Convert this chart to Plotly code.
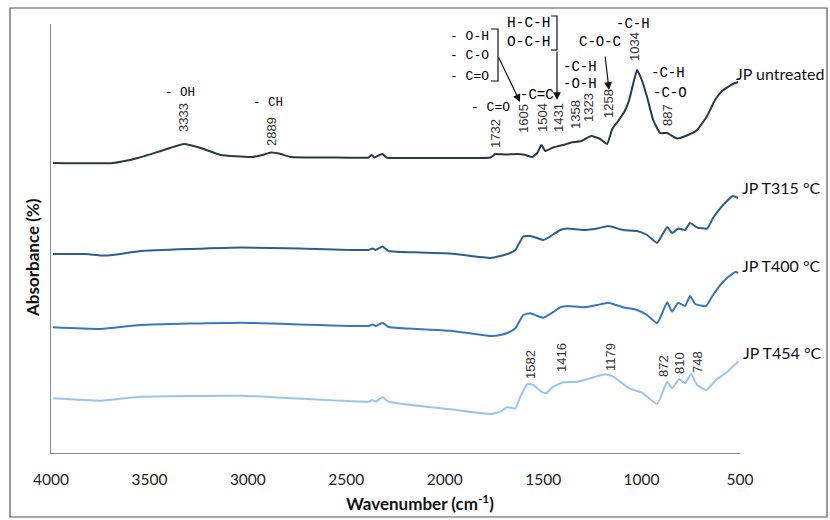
import plotly.graph_objects as go

# ---------------- data ----------------
wn_untreated = [3990, 3685, 3559, 3442, 3325, 3239, 3138, 2985, 2925, 2884, 2833, 2783,
                2580, 2387, 2372, 2356, 2331, 2316, 2296, 2072, 1870, 1768, 1743, 1692,
                1631, 1590, 1555, 1530, 1509, 1489, 1449, 1398, 1357, 1306, 1256, 1210,
                1175, 1149, 1119, 1088, 1063, 1038, 1023, 1003, 972, 941, 906, 870, 820,
                764, 718, 667, 627, 591, 561, 536, 510]
ab_untreated = [2.90, 2.90, 2.95, 3.02, 3.09, 3.05, 2.98, 2.96, 2.98, 3.005, 2.99, 2.96,
                2.955, 2.955, 2.98, 2.955, 2.98, 2.99, 2.955, 2.95, 2.95, 2.955, 2.99, 2.985,
                2.99, 2.98, 2.96, 3.00, 3.08, 3.02, 3.055, 3.08, 3.105, 3.12, 3.17, 3.14,
                3.09, 3.24, 3.32, 3.41, 3.53, 3.73, 3.83, 3.75, 3.56, 3.33, 3.20, 3.20, 3.145,
                3.18, 3.23, 3.37, 3.53, 3.62, 3.66, 3.69, 3.71]

wn_t315 = [3990, 3822, 3746, 3685, 3543, 3290, 3036, 2732, 2387, 2367, 2351, 2316, 2285,
           2123, 1971, 1768, 1717, 1667, 1641, 1601, 1565, 1530, 1499, 1464, 1413, 1378,
           1296, 1225, 1170, 1093, 1023, 972, 921, 870, 845, 814, 779, 754, 718, 667, 637,
           586, 536, 510]
ab_t315 = [1.99, 1.99, 1.975, 1.98, 2.02, 2.04, 2.055, 2.045, 2.03, 2.045, 2.03, 2.065, 2.02,
           2.005, 1.995, 1.95, 1.97, 2.00, 2.03, 2.165, 2.17, 2.15, 2.13, 2.165, 2.23, 2.245,
           2.23, 2.245, 2.27, 2.23, 2.22, 2.18, 2.10, 2.26, 2.20, 2.245, 2.23, 2.30, 2.255,
           2.245, 2.35, 2.48, 2.57, 2.55]

wn_t400 = [3990, 3746, 3543, 3036, 2387, 2367, 2351, 2316, 2285, 1971, 1768, 1717, 1667,
           1641, 1601, 1565, 1530, 1499, 1464, 1413, 1378, 1296, 1225, 1170, 1093, 1023,
           972, 921, 870, 845, 814, 779, 754, 728, 672, 637, 586, 536, 520, 510]
ab_t400 = [1.257, 1.24, 1.28, 1.303, 1.27, 1.285, 1.27, 1.303, 1.26, 1.223, 1.17, 1.18, 1.213,
           1.247, 1.38, 1.397, 1.37, 1.353, 1.39, 1.457, 1.47, 1.457, 1.48, 1.503, 1.457, 1.43,
           1.38, 1.297, 1.507, 1.413, 1.503, 1.47, 1.57, 1.49, 1.47, 1.58, 1.713, 1.797, 1.813,
           1.797]

wn_t454 = [3990, 3746, 3543, 3036, 2387, 2367, 2351, 2316, 2285, 1971, 1768, 1717, 1683,
           1641, 1616, 1580, 1550, 1509, 1484, 1449, 1398, 1327, 1261, 1185, 1144, 1063,
           997, 921, 870, 845, 809, 779, 748, 718, 672, 618, 566, 536, 508]
ab_t454 = [0.547, 0.523, 0.563, 0.573, 0.513, 0.53, 0.513, 0.557, 0.513, 0.437, 0.39, 0.413,
           0.457, 0.447, 0.563, 0.69, 0.68, 0.613, 0.597, 0.663, 0.707, 0.713, 0.747, 0.787,
           0.763, 0.647, 0.603, 0.49, 0.713, 0.647, 0.74, 0.697, 0.79, 0.68, 0.63, 0.737,
           0.807, 0.867, 0.917]

series_names = ["JP untreated", "JP T315 °C", "JP T400 °C", "JP T454 °C"]
series_colors = ["#2b3848", "#2d5e90", "#3677bf", "#9cc4ec"]
x_ticks = [4000, 3500, 3000, 2500, 2000, 1500, 1000, 500]

# ---------------- layout helpers (pixel -> paper) ----------------
X0, X1, Y0, Y1 = 51, 740, 453, 24


def px(x, y):
    return (x - X0) / (X1 - X0), (Y0 - y) / (Y0 - Y1)


fig = go.Figure()
for wn, ab, name, col in zip([wn_untreated, wn_t315, wn_t400, wn_t454],
                             [ab_untreated, ab_t315, ab_t400, ab_t454],
                             series_names, series_colors):
    fig.add_trace(go.Scatter(x=wn, y=ab, mode="lines", name=name,
                             line=dict(color=col, width=2, shape="spline", smoothing=0.4)))

annotations = []


def txt(text, x, y, size=13, family="Liberation Mono", angle=0, xanchor="center", color="#000"):
    ax_, ay_ = px(x, y)
    annotations.append(dict(text=text, x=ax_, y=ay_, xref="paper", yref="paper",
                            showarrow=False, textangle=angle, xanchor=xanchor,
                            yanchor="middle", font=dict(size=size, family=family, color=color)))


# series labels
txt("JP untreated", 734, 73, 16, "Lato", xanchor="left", color="#111")
txt("JP T315 °C", 740, 187, 16, "Lato", xanchor="left", color="#111")
txt("JP T400 °C", 740, 265, 16, "Lato", xanchor="left", color="#111")
txt("JP T454 °C", 741, 352, 16, "Lato", xanchor="left", color="#111")

# rotated peak wavenumbers
peak_labels = [("3333", 183, 118), ("2889", 271, 132), ("1732", 495, 134), ("1605", 523, 119),
               ("1504", 542, 118), ("1431", 558, 118), ("1358", 575, 115), ("1323", 588, 108),
               ("1258", 608, 104), ("1034", 635, 47), ("887", 667, 115),
               ("1582", 530, 365), ("1416", 561, 358), ("1179", 610, 357),
               ("872", 663, 366), ("810", 679, 363), ("748", 697, 362)]
for t, x, y in peak_labels:
    txt(t, x, y, 13, "Liberation Sans", angle=-90, color="#333")

# functional-group labels
groups = [("- OH", 180, 93, 12.5), ("- CH", 268, 103, 12.5),
          ("- O-H", 469, 37, 13), ("- C-O", 469, 55, 13), ("- C=O", 469, 76, 13),
          ("- C=O", 490, 107, 13),
          ("H-C-H", 529, 23, 14.5), ("O-C-H", 529, 42, 14.5),
          ("-C=C", 537, 95, 14), ("-C-H", 580, 67, 14), ("-O-H", 580, 84, 14),
          ("C-O-C", 600, 42, 14), ("-C-H", 633, 24, 14),
          ("-C-H", 668, 73, 14), ("-C-O", 670, 93, 14)]
for t, x, y, s in groups:
    txt(t, x, y, s)

# arrows (head, tail)
for (hx, hy), (tx, ty) in [((520, 102), (498, 56)), ((557, 100), (557, 50)),
                           ((609, 90), (605, 55))]:
    hxp, hyp = px(hx, hy)
    annotations.append(dict(x=hxp, y=hyp, xref="paper", yref="paper", text="",
                            showarrow=True, ax=tx - hx, ay=ty - hy, arrowhead=2,
                            arrowsize=1.3, arrowwidth=1.2, arrowcolor="#111"))

# axis titles
txt("<b>Wavenumber (cm<sup>-1</sup>)</b>", 420, 502, 17, "Lato", color="#111")
txt("<b>Absorbance (%)</b>", 32, 258, 17, "Lato", angle=-90, color="#111")


def path(points):
    d = ""
    for i, (x, y) in enumerate(points):
        xp, yp = px(x, y)
        d += ("M" if i == 0 else " L") + f"{xp:.5f},{yp:.5f}"
    return d


shapes = [
    dict(type="path", xref="paper", yref="paper",
         path=path([(491, 29), (498, 29), (498, 81), (491, 81)]),
         line=dict(color="#111", width=1.2)),
    dict(type="path", xref="paper", yref="paper",
         path=path([(551, 16), (557, 16), (557, 50)]), line=dict(color="#111", width=1.2)),
    dict(type="path", xref="paper", yref="paper",
         path=path([(551, 50), (557, 50)]), line=dict(color="#111", width=1.2)),
]
# outer frame
fx0, fy0 = px(10, 517)
fx1, fy1 = px(827, 8)
shapes.append(dict(type="rect", xref="paper", yref="paper", x0=fx0, y0=fy0, x1=fx1, y1=fy1,
                   line=dict(color="#555", width=1.2)))

fig.update_layout(
    width=830, height=520, autosize=False,
    margin=dict(l=X0, r=830 - X1, t=Y1, b=520 - Y0),
    paper_bgcolor="white", plot_bgcolor="white",
    showlegend=False,
    annotations=annotations, shapes=shapes,
    xaxis=dict(range=[4000, 500], tickvals=x_ticks, ticktext=[str(v) for v in x_ticks],
               showline=True, linecolor="#8a8a8a", linewidth=1.2, showgrid=False,
               zeroline=False, ticks="", ticklabelstandoff=12,
               tickfont=dict(family="Lato", size=15.5, color="#222")),
    yaxis=dict(range=[0, 4.29], showline=True, linecolor="#8a8a8a", linewidth=1.2,
               showgrid=False, zeroline=False, showticklabels=False, ticks=""),
)

fig.write_html("out.html")
